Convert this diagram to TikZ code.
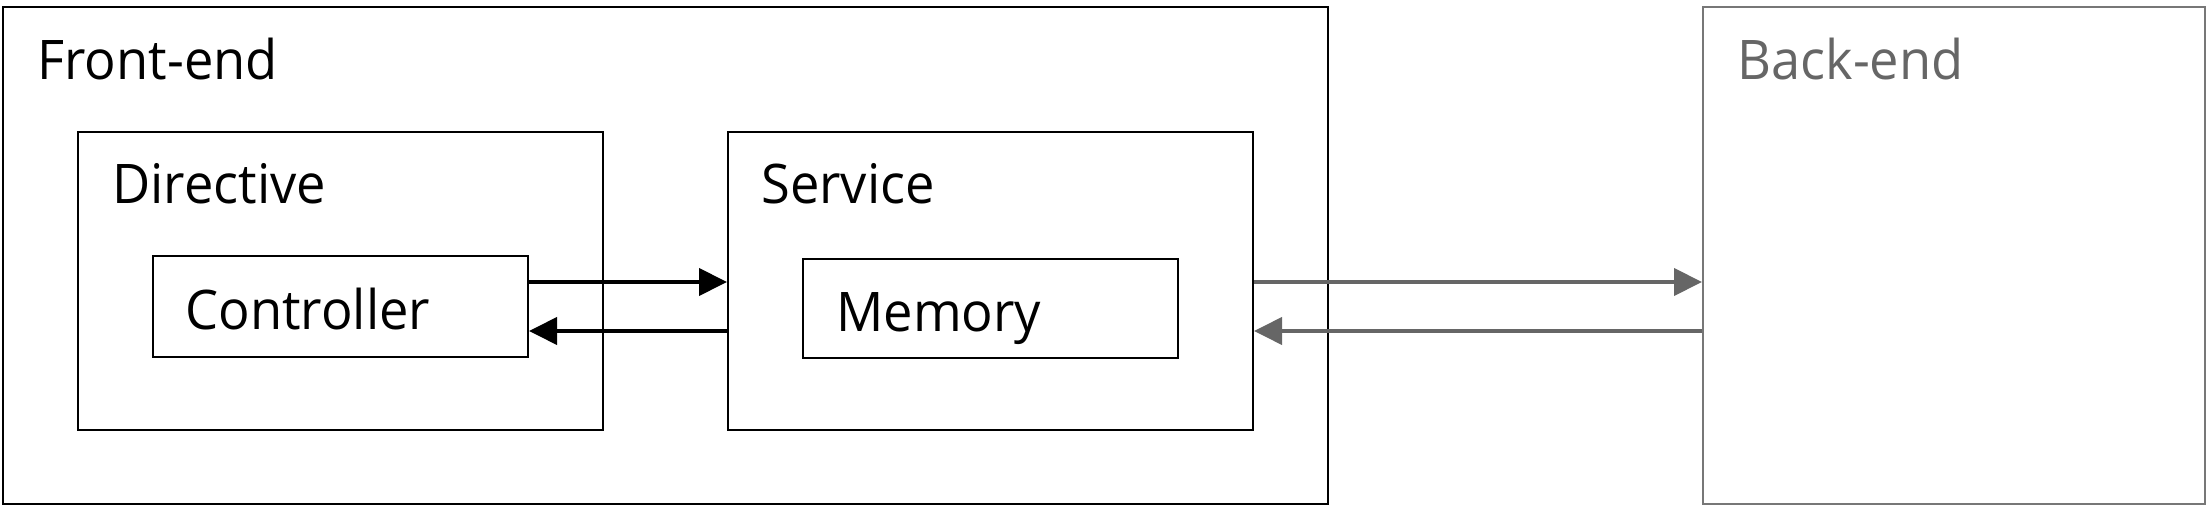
\documentclass[tikz,border=0pt]{standalone}
\usepackage{fontspec}
\setmainfont{Open Sans}[FakeStretch=0.96]
\usetikzlibrary{arrows.meta,fit}
\definecolor{backgray}{HTML}{666666}
\definecolor{backline}{HTML}{777777}

\begin{document}
\begin{tikzpicture}[x=0.5pt,y=-0.5pt,>={Triangle[length=14pt,width=13.5pt]},
  box/.style={draw,line width=1pt,inner sep=0pt},
  title/.style={anchor=base west,inner sep=0pt,font=\fontsize{27.3}{30}\selectfont},
  link/.style={->,line width=2pt}]
\useasboundingbox (0,0) rectangle (2209,512);
% boxes
\node[box,fit={(3,7) (1328,504)}] (frontend) {};
\node[box,draw=backline,fit={(1703,7) (2205,504)}] (backend) {};
\node[box,fit={(78,132) (603,430)}] (directive) {};
\node[box,fit={(153,256) (528,357)}] (controller) {};
\node[box,fit={(728,132) (1253,430)}] (service) {};
\node[box,fit={(803,259) (1178,358)}] (memory) {};
% titles
\node[title] (fetext) at (37,80) {Front-end};
\node[title,text=backgray] (betext) at (1737,80) {Back-end};
\node[title] (dirtext) at (112,204) {Directive};
\node[title] (ctltext) at (185,330) {Controller};
\node[title] (svctext) at (761,204) {Service};
\node[title] (memtext) at (836,332) {Memory};
% connectors
\coordinate (c1) at ([yshift=12.25pt]controller.east);
\coordinate (c2) at ([yshift=-12.25pt]controller.east);
\draw[link] (c1) -- (c1 -| service.west);
\draw[link] (c2 -| service.west) -- (c2);
\coordinate (s1) at (service.east |- c1);
\coordinate (s2) at (service.east |- c2);
\draw[link,backgray] (s1) -- (s1 -| backend.west);
\draw[link,backgray] (s2 -| backend.west) -- (s2);
\end{tikzpicture}
\end{document}
